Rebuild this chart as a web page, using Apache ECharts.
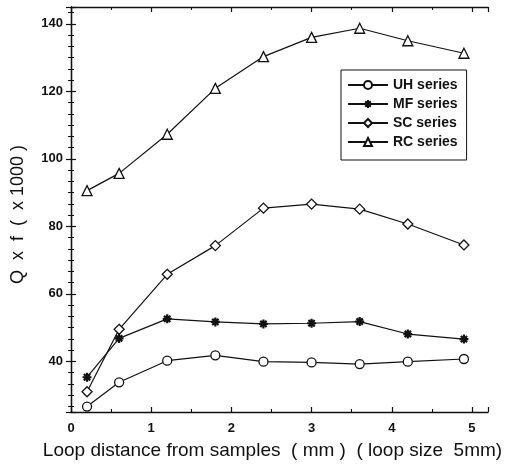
<!DOCTYPE html>
<html>
<head>
<meta charset="utf-8">
<script src="https://cdn.jsdelivr.net/npm/echarts@6/dist/echarts.min.js"></script>
<style>
  html, body { margin: 0; padding: 0; background: #fff; }
  #chart { width: 522px; height: 467px; }
</style>
</head>
<body>
<div id="chart"></div>
<script>
// loop distance from samples (mm)
const distances = [0.2, 0.6, 1.2, 1.8, 2.4, 3.0, 3.6, 4.2, 4.9];
// Q x f (x1000)
const uhSeries = [26.6, 33.8, 40.2, 41.8, 39.9, 39.7, 39.2, 39.9, 40.7];
const mfSeries = [35.3, 46.8, 52.6, 51.7, 51.1, 51.3, 51.8, 48.1, 46.6];
const scSeries = [31.0, 49.5, 65.8, 74.3, 85.4, 86.6, 85.1, 80.7, 74.5];
const rcSeries = [90.6, 95.7, 107.3, 120.9, 130.3, 136.0, 138.7, 135.0, 131.3];
const seriesNames = ["UH series", "MF series", "SC series", "RC series"];

const ink = "#111";
const asterisk = "path://M0,5L10,5M5,0L5,10M1.5,1.5L8.5,8.5M8.5,1.5L1.5,8.5";

function pairs(values) {
  return distances.map((d, i) => [d, values[i]]);
}

function frameAxis(extra) {
  return Object.assign({
    type: "value",
    axisLine: { show: true, lineStyle: { color: ink, width: 1.3 } },
    axisTick: { show: true, inside: true, length: 5, lineStyle: { color: ink, width: 1.2 } },
    minorTick: { show: true, length: 3, lineStyle: { color: ink, width: 1 } },
    splitLine: { show: false },
  }, extra);
}

const labelFont = { color: ink, fontFamily: "Liberation Sans", fontSize: 13, fontWeight: "bold" };

const chart = echarts.init(document.getElementById("chart"));
const options = {
  backgroundColor: "#fff",
  animation: false,
  grid: { left: 71, right: 34, top: 7, bottom: 55 },
  legend: {
    data: seriesNames,
    orient: "vertical",
    left: 341,
    top: 70,
    padding: [8, 9, 11, 6],
    itemWidth: 40,
    itemHeight: 10,
    itemGap: 5,
    borderColor: ink,
    borderWidth: 1,
    textStyle: { color: ink, fontFamily: "Liberation Sans", fontSize: 14, fontWeight: "bold" },
  },
  xAxis: [
    frameAxis({
      position: "bottom",
      min: 0, max: 5.2, splitNumber: 5,
      minorTick: { show: true, splitNumber: 2, length: 3, lineStyle: { color: ink } },
      axisLabel: Object.assign({ showMaxLabel: false, margin: 10 }, labelFont),
      name: "Loop distance from samples  ( mm )  ( loop size  5mm)",
      nameLocation: "middle",
      nameGap: 29,
      nameTextStyle: { color: ink, fontFamily: "Liberation Sans", fontSize: 19, padding: [0, 14, 0, 0] },
    }),
    frameAxis({
      position: "top",
      min: 0, max: 5.2, splitNumber: 5,
      minorTick: { show: true, splitNumber: 2, length: 3, lineStyle: { color: ink } },
      axisLabel: { show: false },
    }),
  ],
  yAxis: [
    frameAxis({
      position: "left",
      min: 25, max: 145, splitNumber: 6,
      minorTick: { show: true, splitNumber: 6, length: 3, lineStyle: { color: ink } },
      axisLabel: Object.assign({ showMinLabel: false, showMaxLabel: false, margin: 8 }, labelFont),
      name: "Q  x  f  (  x 1000 )",
      nameLocation: "middle",
      nameGap: 44,
      nameTextStyle: { color: ink, fontFamily: "Liberation Sans", fontSize: 18, padding: [0, 10, 0, 0] },
    }),
    frameAxis({
      position: "right",
      min: 25, max: 145, splitNumber: 6,
      minorTick: { show: true, splitNumber: 6, length: 3, lineStyle: { color: ink } },
      axisLabel: { show: false },
    }),
  ],
  series: [
    { name: seriesNames[0], data: pairs(uhSeries), symbol: "circle", symbolSize: 9 },
    { name: seriesNames[1], data: pairs(mfSeries), symbol: asterisk, symbolSize: 9 },
    { name: seriesNames[2], data: pairs(scSeries), symbol: "diamond", symbolSize: 10 },
    { name: seriesNames[3], data: pairs(rcSeries), symbol: "triangle", symbolSize: 10 },
  ].map((s, i) => Object.assign({
    type: "line",
    showAllSymbol: true,
    lineStyle: { color: ink, width: 1.2 },
    itemStyle: i === 1
      ? { color: "transparent", borderColor: ink, borderWidth: 2.2 }
      : { color: "#fff", borderColor: ink, borderWidth: 1.3 },
    z: 3 + i,
  }, s)),
};
chart.setOption(options);
</script>
</body>
</html>
